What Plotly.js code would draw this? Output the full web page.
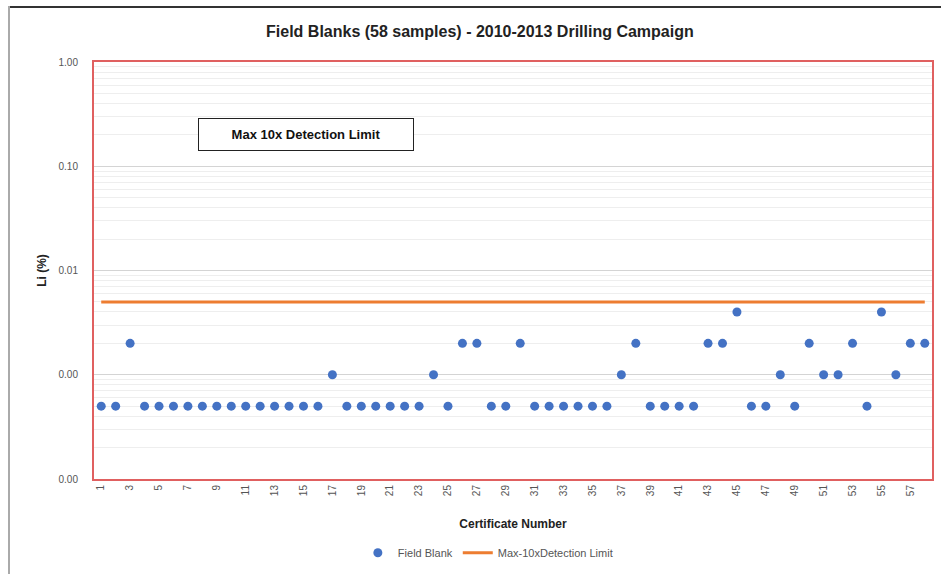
<!DOCTYPE html>
<html>
<head>
<meta charset="utf-8">
<script src="https://cdn.plot.ly/plotly-3.0.1.min.js"></script>
<style>
  html, body { margin: 0; padding: 0; background: #ffffff; }
  #frame { position: absolute; left: 0; top: 0; width: 941px; height: 574px; overflow: hidden; }
  #frame::before { content: ""; position: absolute; left: 8px; top: 6px; right: 0; height: 2px; background: #333; z-index: 2; }
  #frame::after { content: ""; position: absolute; left: 8px; top: 6px; bottom: 0; width: 2px; background: #aaa; z-index: 2; }
  #chart { width: 941px; height: 574px; }
</style>
</head>
<body>
<div id="frame"><div id="chart"></div></div>
<script>
// Certificate numbers 1..58
const certificates = [
  1, 2, 3, 4, 5, 6, 7, 8, 9, 10, 11, 12, 13, 14, 15, 16, 17, 18, 19, 20,
  21, 22, 23, 24, 25, 26, 27, 28, 29, 30, 31, 32, 33, 34, 35, 36, 37, 38, 39, 40,
  41, 42, 43, 44, 45, 46, 47, 48, 49, 50, 51, 52, 53, 54, 55, 56, 57, 58
];

// Li (%) assays of the field blanks
const fieldBlankLi = [
  0.0005, 0.0005, 0.002, 0.0005, 0.0005, 0.0005, 0.0005, 0.0005, 0.0005, 0.0005,
  0.0005, 0.0005, 0.0005, 0.0005, 0.0005, 0.0005, 0.001, 0.0005, 0.0005, 0.0005,
  0.0005, 0.0005, 0.0005, 0.001, 0.0005, 0.002, 0.002, 0.0005, 0.0005, 0.002,
  0.0005, 0.0005, 0.0005, 0.0005, 0.0005, 0.0005, 0.001, 0.002, 0.0005, 0.0005,
  0.0005, 0.0005, 0.002, 0.002, 0.004, 0.0005, 0.0005, 0.001, 0.0005, 0.002,
  0.001, 0.001, 0.002, 0.0005, 0.004, 0.001, 0.002, 0.002
];

// Max 10x detection limit
const detectionLimitLi = 0.005;
const limitLine = certificates.map(() => detectionLimitLi);

// Axis ticks
const xTickVals = certificates.filter(c => c % 2 === 1);
const yTickVals = [0.0001, 0.001, 0.01, 0.1, 1];
const yTickText = ["0.00", "0.00", "0.01", "0.10", "1.00"];
const yMinorVals = [];
[0.0001, 0.001, 0.01, 0.1].forEach(d => { for (let k = 2; k <= 9; k++) yMinorVals.push(d * k); });

const font = "Liberation Sans, Arial, sans-serif";

const traces = [
  {
    x: certificates, y: fieldBlankLi, name: "Field Blank",
    type: "scatter", mode: "markers",
    marker: { color: "#4472C4", size: 9 }
  },
  {
    x: certificates, y: limitLine, name: "Max-10xDetection Limit",
    type: "scatter", mode: "lines",
    line: { color: "#ED7D31", width: 3 }
  }
];

const layout = {
  width: 941, height: 574,
  margin: { l: 94, r: 9, t: 62, b: 95, autoexpand: false },
  paper_bgcolor: "#ffffff", plot_bgcolor: "#ffffff",
  font: { family: font, color: "#555" },
  title: {
    text: "<b>Field Blanks (58 samples) - 2010-2013 Drilling Campaign</b>",
    font: { family: font, size: 16, color: "#222" },
    x: 0.51, xanchor: "center", y: 0.946, yanchor: "middle"
  },
  xaxis: {
    range: [0.5, 58.5],
    tickvals: xTickVals,
    tickangle: -90,
    tickfont: { size: 10, color: "#555" },
    showgrid: false, zeroline: false,
    showline: true, mirror: true, linecolor: "#E06060", linewidth: 2,
    ticks: "",
    automargin: false,
    title: { text: "<b>Certificate Number</b>", font: { size: 12, color: "#222" }, standoff: 24 }
  },
  yaxis: {
    type: "log",
    range: [-4, 0],
    tickvals: yTickVals, ticktext: yTickText,
    tickfont: { size: 10, color: "#555" },
    showgrid: true, gridcolor: "#d4d4d4", gridwidth: 1,
    minor: { tickvals: yMinorVals, showgrid: true, gridcolor: "#eeeeee", gridwidth: 1, ticks: "" },
    zeroline: false,
    showline: true, mirror: true, linecolor: "#E06060", linewidth: 2,
    ticks: "", ticklabelstandoff: 12,
    automargin: false,
    title: { text: "<b>Li (%)</b>", font: { size: 12, color: "#222" }, standoff: 9 }
  },
  annotations: [
    {
      xref: "paper", yref: "paper", x: 0.253, y: 0.825,
      xanchor: "center", yanchor: "middle",
      text: "<b>Max 10x Detection Limit</b>",
      showarrow: false,
      font: { family: font, size: 13, color: "#111" },
      bordercolor: "#222", borderwidth: 1, borderpad: 8,
      bgcolor: "#ffffff",
      width: 198
    }
  ],
  legend: {
    orientation: "h", x: 0.47, xanchor: "center", y: -0.142, yanchor: "top",
    font: { size: 11, color: "#555" }
  },
  showlegend: true
};

Plotly.newPlot("chart", traces, layout, { displayModeBar: false, staticPlot: true });
</script>
</body>
</html>
